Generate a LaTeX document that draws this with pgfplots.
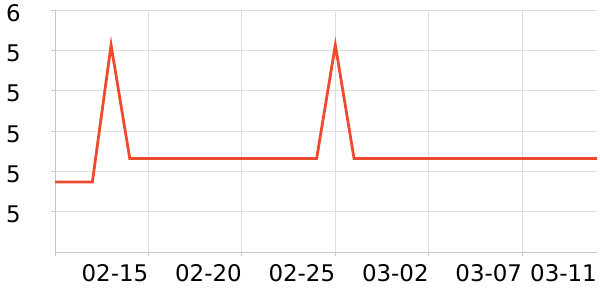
\documentclass[border=0pt]{standalone}
\usepackage{pgfplots}
\pgfplotsset{compat=1.18}
\usepackage{fontspec}
\setmainfont{DejaVu Sans}
\definecolor{linec}{RGB}{238,74,45}
\definecolor{gridc}{RGB}{222,222,222}
\definecolor{axisc}{RGB}{200,200,200}
\pgfplotstableread{
day val
0 5.147
1 5.147
2 5.147
3 5.826
4 5.264
5 5.264
6 5.264
7 5.264
8 5.264
9 5.264
10 5.264
11 5.264
12 5.264
13 5.264
14 5.264
15 5.826
16 5.264
17 5.264
18 5.264
19 5.264
20 5.264
21 5.264
22 5.264
23 5.264
24 5.264
25 5.264
26 5.264
27 5.264
28 5.264
29 5.264
}\datatable
\begin{document}
\begin{tikzpicture}
\useasboundingbox (0,0) rectangle (600bp,300bp);
\begin{axis}[
  at={(55bp,48bp)}, anchor=south west,
  scale only axis, width=542bp, height=242bp,
  xmin=0, xmax=29, ymin=4.8, ymax=6.0,
  ytick={5,5.2,5.4,5.6,5.8,6},
  yticklabels={5,5,5,5,5,6},
  xtick={0,5,10,15,20,25},
  xticklabels={,02-15,02-20,02-25,03-02,03-07},
  extra x ticks={29},
  extra x tick labels={03-11},
  extra x tick style={grid=none, tick style={draw=none}},
  xmajorgrids, ymajorgrids,
  grid style={draw=gridc, line width=0.8bp},
  axis x line*=bottom, axis y line*=left,
  axis line style={draw=axisc, line width=0.9bp, -},
  tick align=outside, major tick length=4bp,
  tick style={draw=axisc, line width=0.8bp},
  ticklabel style={font=\fontsize{23}{24}\selectfont},
  xticklabel style={anchor=north east, inner sep=0pt, yshift=-8bp},
  yticklabel style={anchor=east, inner sep=0pt, xshift=-30bp, yshift=-3bp},
  clip=false,
]
\addplot[color=linec, line width=2.8bp, line join=miter] table[x=day, y=val] {\datatable};
\end{axis}
\end{tikzpicture}
\end{document}
